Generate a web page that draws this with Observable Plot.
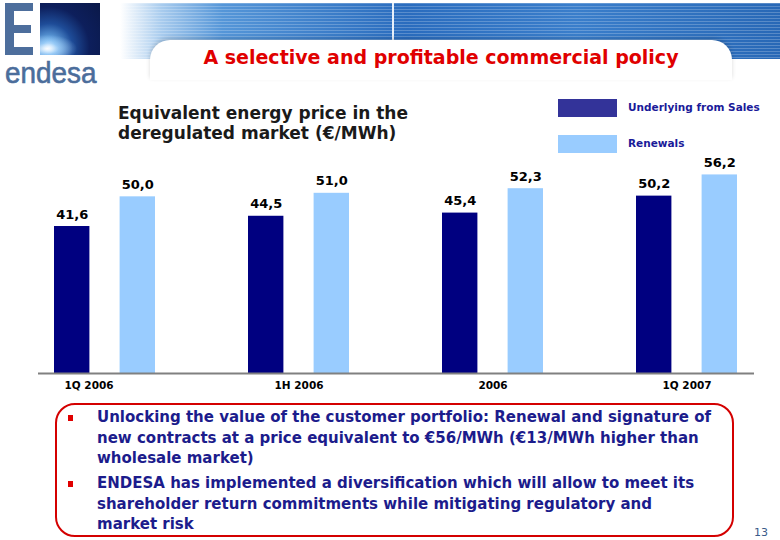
<!DOCTYPE html>
<html>
<head>
<meta charset="utf-8">
<script src="https://cdn.jsdelivr.net/npm/d3@7"></script>
<script src="https://cdn.jsdelivr.net/npm/@observablehq/plot@0.6"></script>
<style>
  html, body { margin: 0; padding: 0; background: #fff; }
  #page { position: relative; width: 780px; height: 540px; overflow: hidden; background: #fff; font-family: "DejaVu Sans", Verdana, sans-serif; }
  .abs { position: absolute; }
  #banner { left: 100px; top: 3px; width: 680px; height: 56px;
    background:
      repeating-linear-gradient(to bottom, rgba(255,255,255,0.22) 0px, rgba(255,255,255,0.22) 1px, rgba(0,0,0,0) 1px, rgba(0,0,0,0) 3px),
      linear-gradient(to right, #ffffff 0%, #ffffff 3%, #a9ccee 9%, #5596d8 18%, #2a6cbe 45%, #3a7ecb 70%, #2868b6 100%); }
  #cut { left: 150px; top: 40px; width: 582px; height: 40px; background: #fff; border-radius: 20px 20px 0 0; box-shadow: 0 -2px 4px rgba(0,0,0,0.15); }
  #vline { left: 392px; top: 3px; width: 2px; height: 37px; background: #e8f0fa; }
  #title { left: 140px; width: 602px; top: 45px; text-align: center; color: #e00000; font-weight: bold; font-size: 19px; line-height: 24px; }
  .eb { background: #4d6e9c; }
  #logoSq { left: 40px; top: 3px; width: 60px; height: 52px;
    background:
      radial-gradient(ellipse 30px 14px at 12% 88%, rgba(255,255,255,0.95) 0%, rgba(180,220,255,0.6) 40%, rgba(0,0,0,0) 100%),
      radial-gradient(circle at 15% 85%, #dff0ff 0%, #6db0ea 10%, #1e4c98 35%, #0d1f5c 60%, #0a1848 100%); }
  #logoTxt { left: 5px; top: 58px; font-family: "Liberation Sans", Arial, sans-serif; font-size: 30px; line-height: 1; color: #4b6d9b; -webkit-text-stroke: 0.6px #4b6d9b; transform: scaleX(0.93); transform-origin: left top; }
  #subtitle { left: 118px; top: 103px; font-weight: bold; font-size: 17px; line-height: 20px; color: #1a1a1a; }
  .sw { width: 59px; height: 18px; }
  .lt { font-weight: bold; font-size: 10.5px; color: #1a1a99; }
  #chart { left: 0; top: 150px; }
  #box { left: 55px; top: 403px; width: 675px; height: 130px; border: 2px solid #d40000; border-radius: 20px; }
  .bul { left: 68px; width: 5px; height: 6px; background: #e00000; }
  .btxt { left: 97px; font-weight: bold; font-size: 15px; line-height: 20.5px; color: #1c1c8c; white-space: nowrap; }
  #pnum { left: 754px; top: 526px; font-size: 11px; color: #3a5a8a; }
</style>
</head>
<body>
<div id="page">
  <div id="banner" class="abs"></div>
  <div id="vline" class="abs"></div>
  <div id="cut" class="abs"></div>
  <div id="title" class="abs">A selective and profitable commercial policy</div>
  <!-- logo "E" drawn as shapes -->
  <div class="abs eb" style="left:5px; top:3px; width:9px; height:52px;"></div>
  <div class="abs eb" style="left:5px; top:3px; width:28px; height:8px;"></div>
  <div class="abs eb" style="left:5px; top:25px; width:26px; height:8px;"></div>
  <div class="abs eb" style="left:5px; top:47px; width:28px; height:8px;"></div>
  <div id="logoSq" class="abs"></div>
  <div id="logoTxt" class="abs">endesa</div>

  <div id="subtitle" class="abs">Equivalent energy price in the<br>deregulated market (€/MWh)</div>

  <div class="abs sw" id="sw0" style="left:558px; top:99px;"></div>
  <div class="abs lt" style="left:628px; top:101px;">Underlying from Sales</div>
  <div class="abs sw" id="sw1" style="left:558px; top:135px;"></div>
  <div class="abs lt" style="left:628px; top:137px;">Renewals</div>

  <div id="chart" class="abs"></div>

  <div id="box" class="abs"></div>
  <div class="abs bul" style="top:415px;"></div>
  <div class="abs btxt" style="top:407px;">Unlocking the value of the customer portfolio: Renewal and signature of<br>new contracts at a price equivalent to €56/MWh (€13/MWh higher than<br>wholesale market)</div>
  <div class="abs bul" style="top:481px;"></div>
  <div class="abs btxt" style="top:473px;">ENDESA has implemented a diversification which will allow to meet its<br>shareholder return commitments while mitigating regulatory and<br>market risk</div>
  <div id="pnum" class="abs">13</div>
</div>
<script>
const periods = ["1Q 2006", "1H 2006", "2006", "1Q 2007"];
const underlying = [41.6, 44.5, 45.4, 50.2];
const renewals = [50.0, 51.0, 52.3, 56.2];
const seriesNames = ["Underlying from Sales", "Renewals"];
const seriesColors = ["#000080", "#99ccff"];

document.getElementById("sw0").style.background = "#333399";
document.getElementById("sw1").style.background = seriesColors[1];

const rows = periods.map((p, i) => ({period: p, underlying: underlying[i], renewals: renewals[i]}));
const fmt = v => v.toFixed(1).replace(".", ",");
const axisStyle = {tickSize: 0, tickPadding: 8, fontWeight: "bold", fontSize: 10.5, fill: "#000", label: null};

const chart = Plot.plot({
  width: 780,
  height: 250,
  marginLeft: 38,
  marginRight: 26,
  marginTop: 11,
  marginBottom: 27,
  style: {fontFamily: "DejaVu Sans, Verdana, sans-serif", background: "transparent", overflow: "visible"},
  x: {domain: periods, paddingInner: 0.479, paddingOuter: 0.0755, label: null},
  y: {domain: [0, 60], axis: null},
  color: {domain: seriesNames, range: seriesColors},
  marks: [
    Plot.barY(rows, {x: "period", y: "underlying", fill: () => seriesNames[0], insetRight: 65.6}),
    Plot.barY(rows, {x: "period", y: "renewals", fill: () => seriesNames[1], insetLeft: 65.6}),
    Plot.text(rows, {x: "period", y: "underlying", text: d => fmt(d.underlying), dx: -32.8, dy: -12, fontWeight: "bold", fontSize: 13, fill: "#000"}),
    Plot.text(rows, {x: "period", y: "renewals", text: d => fmt(d.renewals), dx: 32.8, dy: -12, fontWeight: "bold", fontSize: 13, fill: "#000"}),
    Plot.ruleY([0], {stroke: "#808080", strokeWidth: 2}),
    Plot.axisX({...axisStyle, ticks: periods.slice(0, 1), dx: -16}),
    Plot.axisX({...axisStyle, ticks: periods.slice(1)})
  ]
});
document.getElementById("chart").appendChild(chart);
</script>
</body>
</html>
